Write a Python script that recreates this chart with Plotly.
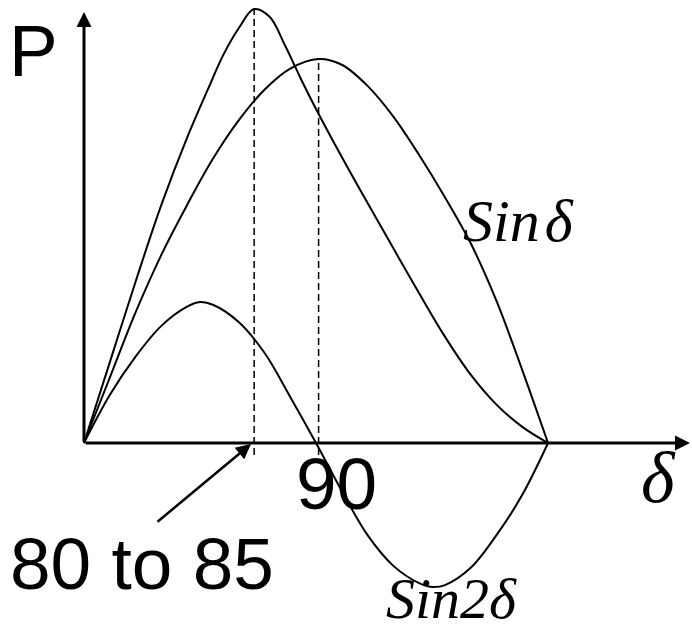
import plotly.graph_objects as go

# Power-angle characteristic of a salient-pole machine (delta in degrees, P in per unit)
delta_sin = [0, 10, 20, 30, 40, 50, 60, 70, 80, 91, 100, 110, 120, 130, 140, 150, 160, 170, 180]
p_sin = [0, 0.17, 0.34, 0.49, 0.62, 0.74, 0.84, 0.92, 0.975, 1.0, 0.985, 0.93, 0.85, 0.75, 0.64, 0.52,
         0.37, 0.19, 0]

delta_sum = [0, 10, 20, 30, 40, 48, 54, 60, 66, 72, 78, 84, 90, 100, 110, 120, 130, 140, 150, 160, 170, 180]
p_sum = [0, 0.21, 0.42, 0.62, 0.795, 0.92, 1.01, 1.08, 1.13, 1.11, 1.035, 0.95, 0.87, 0.745, 0.625, 0.507,
         0.39, 0.277, 0.178, 0.10, 0.042, 0]

delta_sin2 = [0, 10, 20, 30, 40, 45, 50, 60, 70, 80, 90, 100, 110, 120, 130, 135, 140, 150, 160, 170, 180]
p_sin2 = [0, 0.125, 0.225, 0.305, 0.355, 0.367, 0.36, 0.315, 0.235, 0.12, 0, -0.125, -0.24, -0.32,
          -0.365, -0.375, -0.37, -0.325, -0.24, -0.135, 0]

W, H = 692, 634
X0, Y0 = 84, 443          # origin in pixels
KX, KY = 2.578, 384.0     # pixels per degree, pixels per unit P
X_RANGE = [-X0 / KX, (W - X0) / KX]
Y_RANGE = [(Y0 - H) / KY, Y0 / KY]


def dx(px):
    return (px - X0) / KX


def dy(py):
    return (Y0 - py) / KY


def px_x(px):
    return px / W


def px_y(py):
    return 1 - py / H


fig = go.Figure()
for xs, ys in ((delta_sum, p_sum), (delta_sin, p_sin), (delta_sin2, p_sin2)):
    fig.add_trace(go.Scatter(x=xs, y=ys, mode="lines",
                             line=dict(color="black", width=2, shape="spline", smoothing=1.0),
                             hoverinfo="skip"))

# dashed markers at the two maxima
i_sum = p_sum.index(max(p_sum))
i_sin = p_sin.index(max(p_sin))
dash = dict(color="black", width=1.5, dash="7px,4px")
fig.add_shape(type="line", x0=delta_sum[i_sum], x1=delta_sum[i_sum],
              y0=dy(455), y1=p_sum[i_sum] + 0.01, line=dash)
fig.add_shape(type="line", x0=delta_sin[i_sin], x1=delta_sin[i_sin],
              y0=dy(455), y1=p_sin[i_sin], line=dash)

annots = []
# axes with arrowheads
annots.append(dict(x=0, y=dy(12), ax=0, ay=0, xref="x", yref="y", axref="x", ayref="y",
                   text="", showarrow=True, arrowhead=2, arrowwidth=3, arrowsize=1,
                   arrowcolor="black"))
annots.append(dict(x=dx(690), y=0, ax=0, ay=0, xref="x", yref="y", axref="x", ayref="y",
                   text="", showarrow=True, arrowhead=2, arrowwidth=3, arrowsize=1,
                   arrowcolor="black"))
# pointer to the maximum of the resultant curve
annots.append(dict(x=dx(251), y=dy(444), ax=-95, ay=79, xref="x", yref="y",
                   text="", showarrow=True, arrowhead=2, arrowwidth=2.5, arrowsize=1.2,
                   arrowcolor="black"))

sans = dict(family="Liberation Sans, Arial, sans-serif", size=73, color="black")
serif = dict(family="Liberation Serif, Times New Roman, serif", size=60, color="black")
labels = [
    ("P", 33, 51, sans),
    ("80 to 85", 142, 563, sans),
    ("90", 336, 483, sans),
    ("<i>Sin\u200aδ</i>", 518, 221, serif),
    ("<i>Sin2δ</i>", 451, 598, dict(serif, size=58)),
    ("<i>δ</i>", 658, 478, dict(serif, size=72)),
]
for txt, x, y, f in labels:
    annots.append(dict(text=txt, x=px_x(x), y=px_y(y), xref="paper", yref="paper",
                       xanchor="center", yanchor="middle", showarrow=False, font=f))

fig.update_layout(
    width=W, height=H, margin=dict(l=0, r=0, t=0, b=0),
    paper_bgcolor="white", plot_bgcolor="white", showlegend=False,
    xaxis=dict(range=X_RANGE, visible=False, fixedrange=True),
    yaxis=dict(range=Y_RANGE, visible=False, fixedrange=True),
    annotations=annots,
)
fig.write_html("out.html")
